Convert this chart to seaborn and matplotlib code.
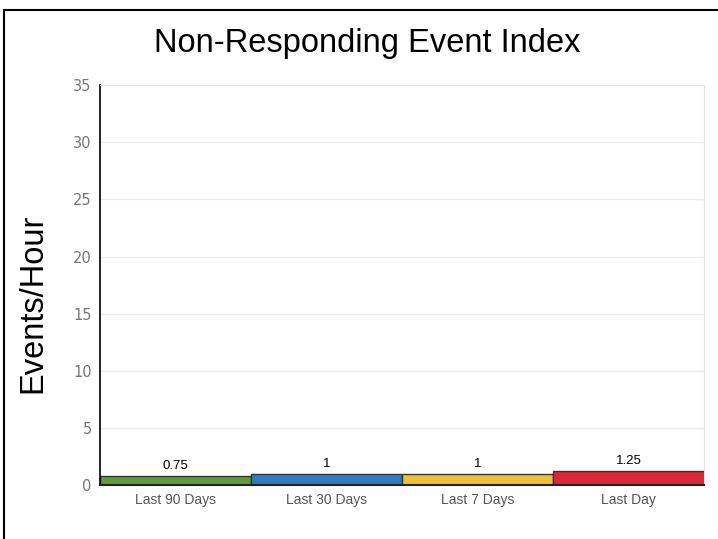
import pandas as pd
import matplotlib
matplotlib.use("Agg")
import matplotlib.pyplot as plt
import seaborn as sns
from matplotlib.patches import Rectangle

periods = ["Last 90 Days", "Last 30 Days", "Last 7 Days", "Last Day"]
events_per_hour = [0.75, 1, 1, 1.25]
value_labels = ["0.75", "1", "1", "1.25"]
bar_colors = ["#5f9a3c", "#2f7dc0", "#eec035", "#dc2836"]
y_ticks = [0, 5, 10, 15, 20, 25, 30, 35]

df = pd.DataFrame({"period": periods, "events": events_per_hour})

sns.set_style("white")
plt.rcParams["font.family"] = ["Liberation Sans", "DejaVu Sans"]

fig = plt.figure(figsize=(7.18, 5.39), dpi=100)
ax = fig.add_axes([0.1393, 0.1002, 0.8412, 0.7418])

sns.barplot(data=df, x="period", y="events", hue="period", palette=bar_colors,
            saturation=1, legend=False, width=1.0, edgecolor="#333333",
            linewidth=1, ax=ax)

for i, (v, lab) in enumerate(zip(events_per_hour, value_labels)):
    ax.text(i, v + 0.35, lab, ha="center", va="bottom", fontsize=9.5, color="black")

ax.set_ylim(0, 35)
ax.set_xlim(-0.5, 3.5)
ax.set_yticks(y_ticks)
ax.set_yticklabels([str(t) for t in y_ticks], color="#777777", fontsize=10.5,
                   family="DejaVu Sans")
ax.tick_params(axis="y", length=0, pad=6)
ax.tick_params(axis="x", length=0, pad=6, labelsize=10, labelcolor="#555555")
ax.grid(axis="y", color="#ececec", linewidth=1)
ax.set_axisbelow(True)

for side in ["top", "right"]:
    ax.spines[side].set_color("#e4e4e4")
ax.spines["left"].set_color("black")
ax.spines["left"].set_linewidth(1.2)
ax.spines["bottom"].set_color("#222222")
ax.spines["bottom"].set_linewidth(1.5)

ax.set_xlabel("")
ax.set_ylabel("Events/Hour", fontsize=23.5, color="black")
ax.yaxis.set_label_coords(-0.086, 0.455)
fig.text(0.511, 0.92, "Non-Responding Event Index", ha="center", va="center",
         fontsize=23.5, color="black")

# outer frame around the chart
fig.patches.append(Rectangle((4 / 718, -0.05), 1.0, 1 - 10 / 539 + 0.05,
                             transform=fig.transFigure, fill=False,
                             edgecolor="black", linewidth=1.5))

fig.savefig("out.png", dpi=100)
